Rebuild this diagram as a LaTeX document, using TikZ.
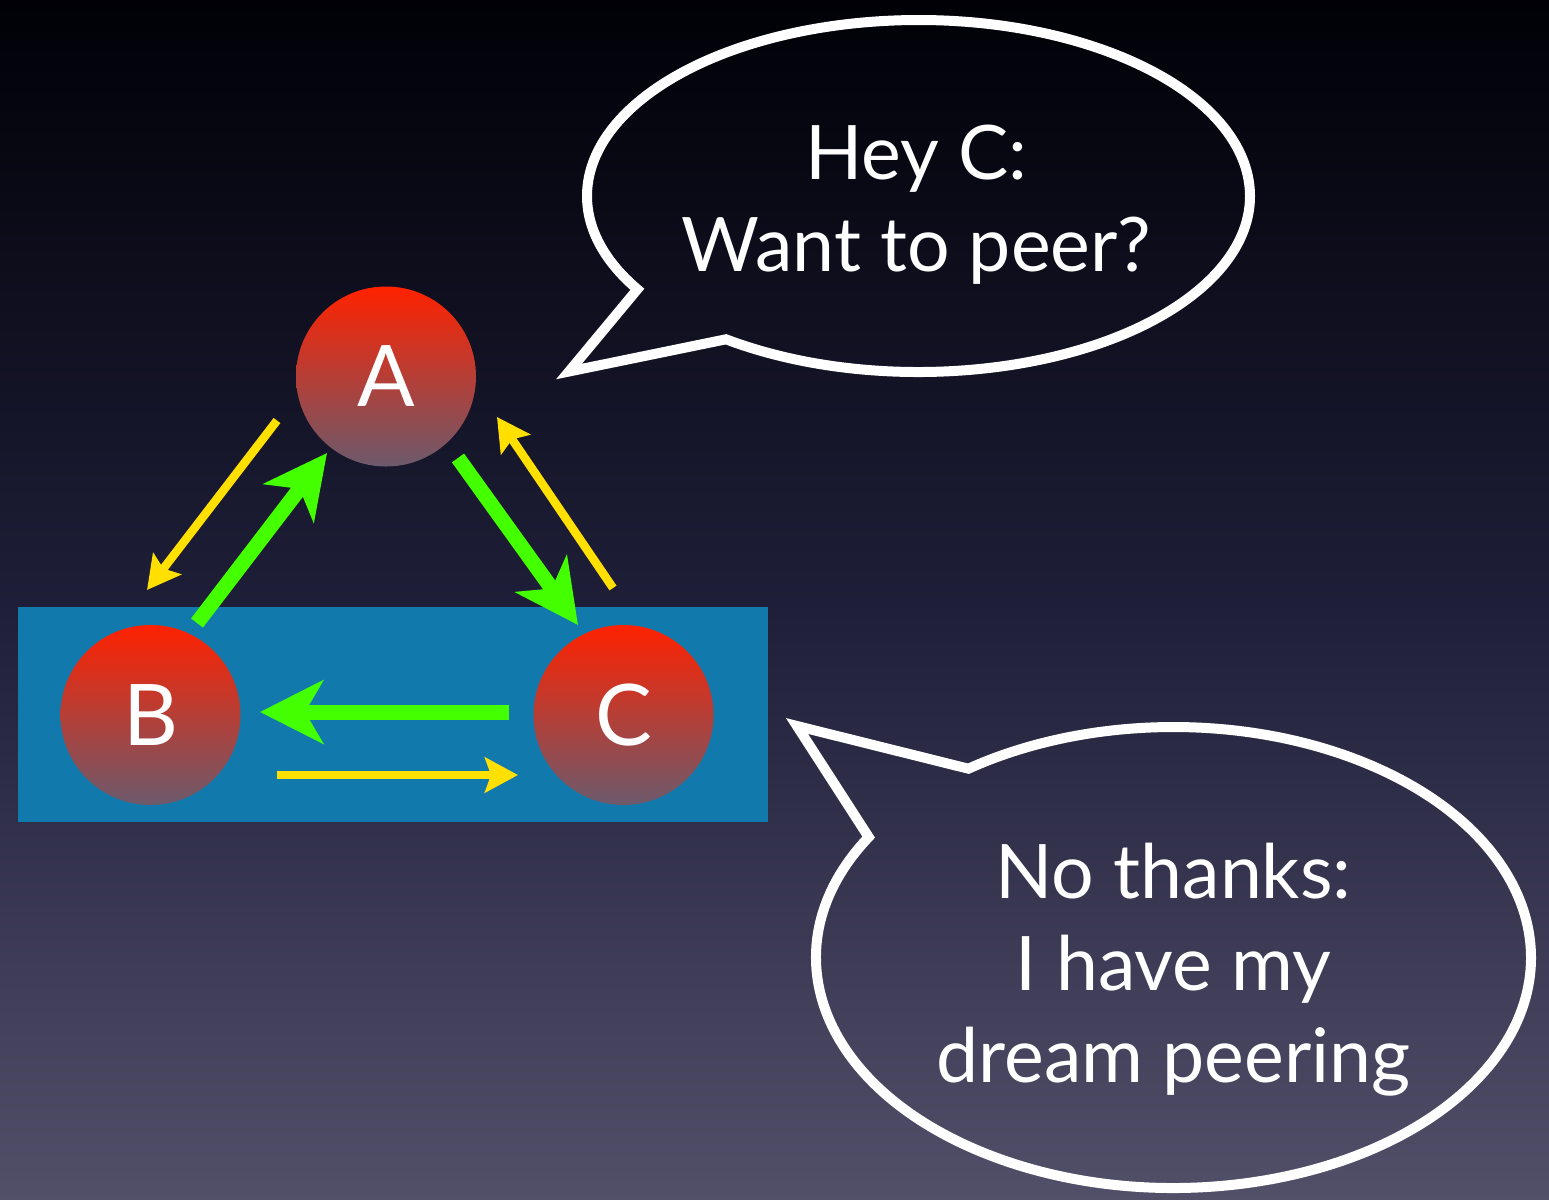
\documentclass[tikz,border=0pt]{standalone}
\usepackage{fontspec}
\setmainfont{Lato}
\usepackage{tikz}
\usetikzlibrary{arrows.meta,calc,positioning}
\definecolor{peerBgTop}{HTML}{000006}
\definecolor{peerBgMid}{HTML}{1E1E38}
\definecolor{peerBgBot}{HTML}{524F69}
\definecolor{peerRed}{HTML}{FF2200}
\definecolor{peerRedMid}{HTML}{C03234}
\definecolor{peerMauve}{HTML}{6C5A6C}
\definecolor{peerBlue}{HTML}{1279AD}
\definecolor{peerGreen}{HTML}{44FF00}
\definecolor{peerYellow}{HTML}{FFE000}

\begin{document}
\begin{tikzpicture}[
  font=\fontsize{21.4}{26.2}\selectfont,
  every node/.style={align=center,text=white},
  asnode/.style ={circle,minimum size=18mm,inner sep=0pt,top color=peerRed,middle color=peerRedMid,
                  bottom color=peerMauve,font=\fontsize{24.2}{24.2}\selectfont},
  sayline/.style={draw=white,line width=1mm,line join=miter},
  garr/.style   ={-{Stealth[length=6.3mm,width=6.3mm,inset=1.8mm]},draw=peerGreen,fill=peerGreen,line width=1.5mm},
  yarr/.style   ={-{Stealth[length=3.3mm,width=3.5mm,inset=0.6mm]},draw=peerYellow,fill=peerYellow,line width=0.85mm}
]
\useasboundingbox (0,0) rectangle (15.49,-12);
% background
\shade[top color=peerBgTop,bottom color=peerBgMid] (0,0) rectangle (15.49,-6);
\shade[top color=peerBgMid,bottom color=peerBgBot] (0,-6) rectangle (15.49,-12);
\fill[peerBlue] (0.18,-6.07) rectangle (7.68,-8.22);

% the three networks
\node[asnode] (A) at (3.86,-3.765) {A};
\node[asnode] (B) at (1.505,-7.15) {B};
\node[asnode] (C) at (6.235,-7.15) {C};

% arrows
\draw[yarr] ($(A)+(-1.09,-0.44)$)  -- ($(B)+(-0.035,1.25)$);
\draw[garr] ($(B)+(0.465,0.92)$)   -- ($(A)+(-0.59,-0.765)$);
\draw[garr] ($(A)+(0.72,-0.815)$)  -- ($(C)+(-0.455,0.90)$);
\draw[yarr] ($(C)+(-0.105,1.27)$)  -- ($(A)+(1.11,-0.405)$);
\draw[garr] ($(C)+(-1.145,0.03)$)  -- ($(B)+(1.095,0.03)$);
\draw[yarr] ($(B)+(1.26,-0.60)$)   -- ($(C)+(-1.055,-0.60)$);

% speech bubbles
\coordinate (heyc) at (9.185,-1.96);
\coordinate (heytip) at (5.69,-3.715);
\node (hey) at ($(heyc)+(-0.02,-0.09)$) {Hey C:\\Want to peer?};
\draw[sayline,shift={(heyc)}] (234.5:3.315 and 1.76)
  arc[start angle=234.5,end angle=572,x radius=3.315,y radius=1.76] -- (heytip) -- cycle;

\coordinate (noc) at (11.735,-9.575);
\coordinate (notip) at (7.97,-7.26);
\node (nothx) at ($(noc)+(0,-0.12)$) {No thanks:\\I have my\\dream peering};
\draw[sayline,shift={(noc)}] (148.5:3.575 and 2.305)
  arc[start angle=148.5,end angle=485,x radius=3.575,y radius=2.305] -- (notip) -- cycle;
\end{tikzpicture}
\end{document}
